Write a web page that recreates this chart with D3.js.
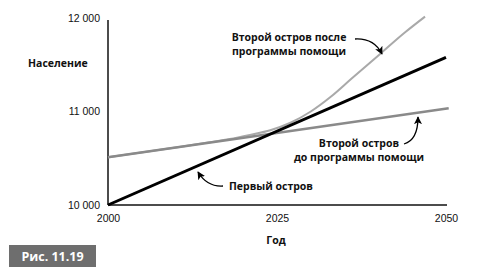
<!DOCTYPE html>
<html>
<head>
<meta charset="utf-8">
<script src="https://cdn.jsdelivr.net/npm/d3@7"></script>
<style>
  body { margin: 0; background: #fff; }
  svg { display: block; font-family: "Open Sans", "Noto Sans", sans-serif; }
  .tick text { font-size: 10.5px; fill: #111; }
  .lbl { font-size: 10.5px; font-weight: bold; fill: #111; }
</style>
</head>
<body>
<svg width="479" height="277"></svg>
<script>
const years = [2000, 2025, 2050];
const popTicks = [10000, 11000, 12000];

// первый остров — прямая
const firstIsland = [[2000, 10000], [2050, 11580]];
// второй остров до программы помощи
const secondBefore = [[2000, 10510], [2050.4, 11035]];
// второй остров после программы помощи
const secondAfter = [
  [2000, 10510], [2010, 10615], [2015, 10670], [2018, 10705], [2021, 10750],
  [2024, 10800], [2027, 10880], [2030, 11000], [2033, 11160], [2036, 11350],
  [2040, 11600], [2044, 11850], [2046.9, 12015]
];

const svg = d3.select("svg");

const x = d3.scaleLinear().domain([2000, 2050]).range([108, 446]);
const y = d3.scaleLinear().domain([10000, 12000]).range([205, 18]);

const fmt = d3.formatLocale({ decimal: ",", thousands: " ", grouping: [3], currency: ["", ""] }).format(",");

const xAxis = svg.append("g")
  .attr("transform", `translate(0,${y(10000)})`)
  .call(d3.axisBottom(x).tickValues(years).tickFormat(d3.format("d")).tickSize(0).tickPadding(10));
xAxis.select(".domain").attr("stroke", "#111").attr("stroke-width", 1.5).attr("d", `M108,0H447`);

const yAxis = svg.append("g")
  .attr("transform", `translate(${x(2000)},0)`)
  .call(d3.axisLeft(y).tickValues(popTicks).tickFormat(fmt).tickSize(0).tickPadding(8));
yAxis.select(".domain").attr("stroke", "#111").attr("stroke-width", 1.5).attr("d", `M0,205V20`);
yAxis.selectAll(".tick text").attr("dy", "0.3em");

const smooth = d3.line().x((d) => x(d[0])).y((d) => y(d[1])).curve(d3.curveMonotoneX);
const straight = d3.line().x((d) => x(d[0])).y((d) => y(d[1]));

svg.append("path")
  .datum(secondAfter)
  .attr("d", smooth)
  .attr("fill", "none")
  .attr("stroke", "#a9a9a9")
  .attr("stroke-width", 2);

svg.append("path")
  .datum(secondBefore)
  .attr("d", straight)
  .attr("fill", "none")
  .attr("stroke", "#8a8a8a")
  .attr("stroke-width", 2.6);

svg.append("path")
  .datum(firstIsland)
  .attr("d", straight)
  .attr("fill", "none")
  .attr("stroke", "#000")
  .attr("stroke-width", 3);

// подписи осей
svg.append("text").attr("class", "lbl").attr("x", 28).attr("y", 67).text("Население");
svg.append("text").attr("class", "lbl").attr("x", 276).attr("y", 244)
  .attr("text-anchor", "middle").text("Год");

// стрелки
const defs = svg.append("defs");
defs.append("marker")
  .attr("id", "arr")
  .attr("viewBox", "0 0 10 10")
  .attr("refX", 9).attr("refY", 5)
  .attr("markerWidth", 8).attr("markerHeight", 8)
  .attr("markerUnits", "userSpaceOnUse")
  .attr("orient", "auto")
  .append("path").attr("d", "M0,0L10,5L0,10L2.5,5Z").attr("fill", "#000");

const notes = [
  { lines: ["Второй остров после", "программы помощи"], x: 289, y: 41, arrow: "M355,39Q374,38 382,54" },
  { lines: ["Второй остров", "до программы помощи"], x: 359, y: 147, arrow: "M404,144Q418,140 418,117" },
  { lines: ["Первый остров"], x: 271, y: 190, arrow: "M223,186Q207,187 198,172" }
];

notes.forEach((n) => {
  const t = svg.append("text").attr("class", "lbl").attr("text-anchor", "middle");
  n.lines.forEach((s, i) => {
    t.append("tspan").attr("x", n.x).attr("y", n.y + i * 14).text(s);
  });
  svg.append("path")
    .attr("d", n.arrow)
    .attr("fill", "none")
    .attr("stroke", "#000")
    .attr("stroke-width", 1.3)
    .attr("marker-end", "url(#arr)");
});

// плашка с номером рисунка
svg.append("rect").attr("x", 9).attr("y", 245).attr("width", 87).attr("height", 22).attr("fill", "#6e6e6e");
svg.append("text").attr("x", 52.5).attr("y", 260.5).attr("text-anchor", "middle")
  .attr("fill", "#fff").attr("font-weight", "bold").attr("font-size", "12.5px").text("Рис. 11.19");
</script>
</body>
</html>
